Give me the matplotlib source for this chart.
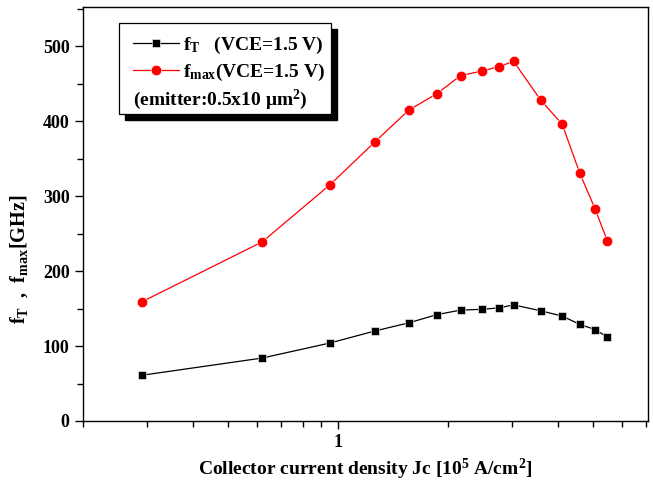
import matplotlib
matplotlib.use("Agg")
import matplotlib.pyplot as plt
from matplotlib.patches import Rectangle
from matplotlib.ticker import LogLocator, NullFormatter, FixedLocator, FixedFormatter, MultipleLocator

plt.rcParams['font.family'] = ['Liberation Serif', 'DejaVu Serif']
plt.rcParams['font.weight'] = 'bold'
plt.rcParams['axes.labelweight'] = 'bold'
plt.rcParams['mathtext.fontset'] = 'custom'
plt.rcParams['mathtext.rm'] = 'Liberation Serif:bold'
plt.rcParams['mathtext.bf'] = 'Liberation Serif:bold'
plt.rcParams['mathtext.it'] = 'Liberation Serif:bold'
plt.rcParams['mathtext.default'] = 'bf'

# current density [1e5 A/cm2]
jc = [0.29, 0.62, 0.95, 1.26, 1.565, 1.87, 2.17, 2.48, 2.77, 3.03, 3.60, 4.12, 4.60, 5.07, 5.48]
# fT and fmax [GHz]
ft = [61, 84, 104, 120, 131, 142, 148, 149, 151, 155, 147, 140, 129, 122, 112]
fmax = [159, 239, 315, 372, 415, 437, 461, 467, 473, 480, 428, 396, 331, 283, 240]

fig = plt.figure(figsize=(6.53, 4.91), dpi=100)
ax = fig.add_axes([0.127, 0.1426, 0.865, 0.8424])

l1, = ax.plot(jc, ft, '-s', color='black', lw=0.9, ms=6, mec='white', mew=0.4)
l2, = ax.plot(jc, fmax, '-o', color='red', lw=0.9, ms=7.5, mec='white', mew=0.4)

ax.set_xscale('log')
ax.set_xlim(0.2, 7.07)
ax.set_ylim(0, 552)
ax.xaxis.set_major_locator(FixedLocator([1]))
ax.xaxis.set_major_formatter(FixedFormatter(['1']))
ax.xaxis.set_minor_locator(LogLocator(base=10, subs=range(2, 10)))
ax.xaxis.set_minor_formatter(NullFormatter())
ax.yaxis.set_major_locator(MultipleLocator(100))
ax.yaxis.set_minor_locator(MultipleLocator(50))
ax.tick_params(which='both', direction='out', top=False, right=False, width=1.0, labelsize=13)
ax.tick_params(which='major', length=6)
ax.tick_params(which='minor', length=4)
for s in ax.spines.values():
    s.set_linewidth(1.0)

ax.set_xlabel('Collector current density Jc [10$^5$ A/cm$^2$]', fontsize=14, labelpad=4)
ax.set_ylabel('$f_T$  ,  $f_{max}$[GHz]', fontsize=14.5)
ax.yaxis.set_label_coords(-0.094, 0.392)

# legend box with shadow
bx, by, bw, bh = 0.064, 0.742, 0.375, 0.22
ax.add_patch(Rectangle((bx + 0.0106, by - 0.0145), bw, bh, transform=ax.transAxes,
                       facecolor='black', edgecolor='black', zorder=4))
ax.add_patch(Rectangle((bx, by), bw, bh, transform=ax.transAxes,
                       facecolor='white', edgecolor='black', lw=0.9, zorder=5))
leg = ax.legend([l1, l2], ['$f_T$   (VCE=1.5 V)', '$f_{max}$(VCE=1.5 V)'],
                loc='upper left', bbox_to_anchor=(0.0885, 0.933), frameon=False,
                fontsize=14, handlelength=2.37, handletextpad=0.2, labelspacing=0.3,
                borderaxespad=0, borderpad=0)
leg.set_zorder(6)
ax.text(0.0885, 0.776, '(emitter:0.5x10 μm$^2$)', transform=ax.transAxes,
        fontsize=14, zorder=7, va='center')

fig.savefig('out.png', dpi=100)
